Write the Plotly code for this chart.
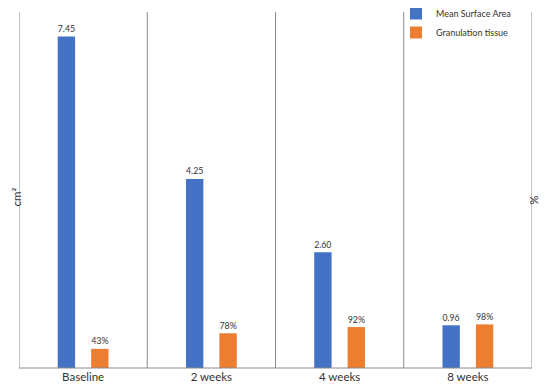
import plotly.graph_objects as go

categories = ["Baseline", "2 weeks", "4 weeks", "8 weeks"]
surface_area = [7.45, 4.25, 2.60, 0.96]
granulation = [43, 78, 92, 98]
surface_labels = ["7.45", "4.25", "2.60", "0.96"]
granulation_labels = ["43%", "78%", "92%", "98%"]

BLUE = "#4472C4"
ORANGE = "#ED7D31"
FONT = "Lato, 'Open Sans', sans-serif"
TXT = "#333333"

# page has 8px default body margin -> figure is sized/offset accordingly
W, H = 542, 379
ML, MR, MT, MB = 11, 18, 4, 19
PW, PH = W - ML - MR, H - MT - MB


def px_to_paper(px, py):
    """page pixel (within 550x387 window) -> paper coords"""
    fx, fy = px - 8, py - 8
    return (fx - ML) / PW, (H - MB - fy) / PH


fig = go.Figure()
fig.add_trace(go.Bar(
    x=categories, y=surface_area, name="Mean Surface Area",
    marker=dict(color=BLUE, line=dict(width=0)),
    text=surface_labels, textposition="outside", cliponaxis=False,
    textfont=dict(size=11.5, color=TXT, family=FONT),
    offsetgroup="1", yaxis="y",
))
fig.add_trace(go.Bar(
    x=categories, y=granulation, name="Granulation tissue",
    marker=dict(color=ORANGE, line=dict(width=0)),
    text=granulation_labels, textposition="outside", cliponaxis=False,
    textfont=dict(size=11.5, color=TXT, family=FONT),
    offsetgroup="2", yaxis="y2",
))

shapes = []
for i in range(5):
    shapes.append(dict(type="line", xref="x", yref="paper",
                       x0=i - 0.5, x1=i - 0.5, y0=0, y1=1,
                       line=dict(color="#8a8a8a", width=1)))
shapes.append(dict(type="line", xref="paper", yref="paper",
                   x0=0, x1=1, y0=0, y1=0,
                   line=dict(color="#8a8a8a", width=1)))

lx, ly = px_to_paper(396, -1)
cx, cy = px_to_paper(7, 197)
px_, py_ = px_to_paper(542, 200)

fig.update_layout(
    width=W, height=H,
    margin=dict(l=ML, r=MR, t=MT, b=MB, autoexpand=False),
    paper_bgcolor="white", plot_bgcolor="white",
    barmode="group", bargap=0.479, bargroupgap=0.48,
    font=dict(family=FONT, size=11, color=TXT),
    xaxis=dict(range=[-0.5, 3.5], showgrid=False, showline=False,
               ticks="", tickfont=dict(size=11.5, color=TXT, family=FONT)),
    yaxis=dict(range=[0, 8], visible=False),
    yaxis2=dict(range=[0, 800], overlaying="y", side="right", visible=False),
    shapes=shapes,
    showlegend=True,
    legend=dict(x=lx, y=ly, xanchor="left", yanchor="top",
                bgcolor="rgba(0,0,0,0)", font=dict(size=9, color=TXT, family=FONT),
                tracegroupgap=0),
)
fig.add_annotation(text="cm²", x=cx, y=cy, xref="paper", yref="paper",
                   showarrow=False, textangle=-90,
                   font=dict(size=11.5, color=TXT, family=FONT))
fig.add_annotation(text="%", x=px_, y=py_, xref="paper", yref="paper",
                   showarrow=False, textangle=90,
                   font=dict(size=11.5, color=TXT, family=FONT))

fig.write_html("out.html")
